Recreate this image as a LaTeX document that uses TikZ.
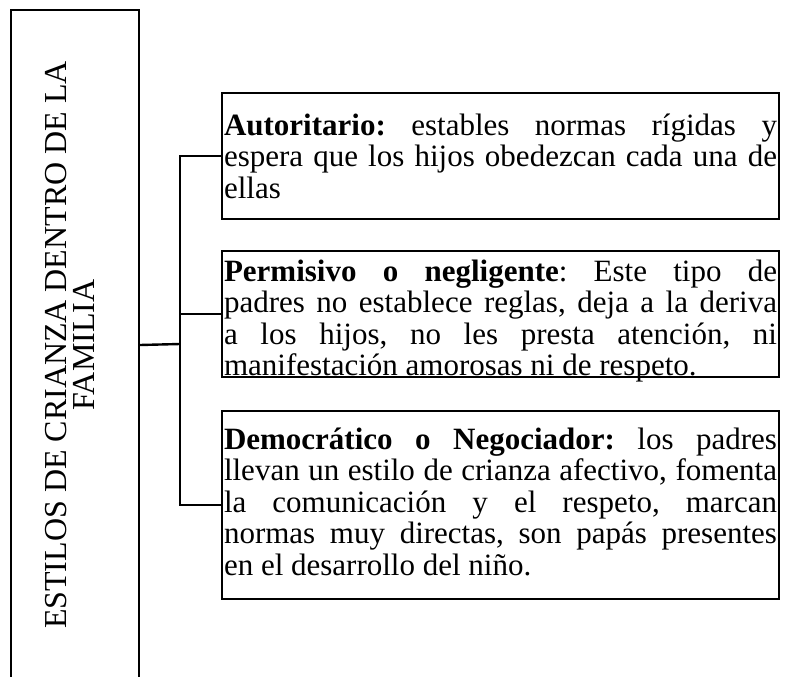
\documentclass[tikz,border=0pt]{standalone}
\usepackage{fontspec}
\setmainfont{Liberation Serif}
\frenchspacing
\newcommand{\linea}[1]{\makebox[\linewidth][s]{#1}\\}

\begin{document}
\begin{tikzpicture}[x=1pt, y=-1pt,
  caja/.style={draw, line width=2pt, anchor=north west, text width=553pt,
    inner xsep=2pt, align=justify, font=\fontsize{31pt}{31.5pt}\selectfont},
  conector/.style={line width=1.6pt},
  principal/.style={line width=2.4pt}]

  \useasboundingbox (0,0) rectangle (785,677);

  % Left frame and title
  \node[draw, line width=2pt, anchor=north west, minimum width=128pt,
    minimum height=670pt, inner sep=0pt] (marco) at (10,9) {};
  \node[rotate=90, align=center, font=\fontsize{32pt}{28pt}\selectfont]
    (titulo) at ([xshift=-5pt]marco.center) {ESTILOS DE CRIANZA DENTRO DE LA\\FAMILIA};

  % Styles
  \node[caja, minimum height=126pt] (aut) at (221,92) {%
    \linea{\textbf{Autoritario:} estables normas rígidas y}
    \linea{espera que los hijos obedezcan cada una de}
    ellas};
  \node[caja, inner ysep=4pt, text height=26pt, text depth=91.5pt] (per) at (221,250) {%
    \linea{\textbf{Permisivo o negligente}: Este tipo de}
    \linea{padres no establece reglas, deja a la deriva}
    \linea{a los hijos, no les presta atención, ni}
    manifestación amorosas ni de respeto.};
  \node[caja, minimum height=188pt, text depth=133pt] (dem) at (221,410) {%
    \linea{\textbf{Democrático o Negociador:} los padres}
    \linea{llevan un estilo de crianza afectivo, fomenta}
    \linea{la comunicación y el respeto, marcan}
    \linea{normas muy directas, son papás presentes}
    en el desarrollo del niño.};

  % Connectors
  \coordinate (nudo) at (180,344);
  \draw[principal] (marco.east) -- (nudo);
  \draw[conector] (aut.west) -| (nudo) |- (dem.west);
  \draw[conector] (per.west) -- (per.west -| nudo);

\end{tikzpicture}
\end{document}
